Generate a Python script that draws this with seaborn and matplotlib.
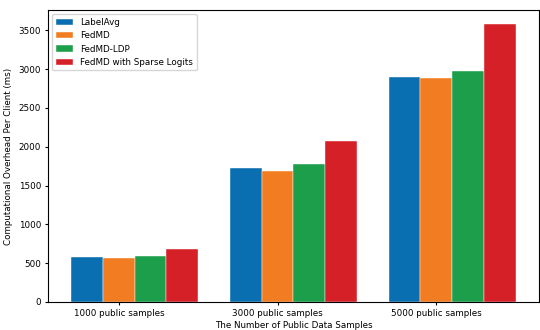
import matplotlib
matplotlib.use("Agg")
import matplotlib.pyplot as plt
import pandas as pd
import seaborn as sns

groups = ["1000 public samples", "3000 public samples", "5000 public samples"]
methods = ["LabelAvg", "FedMD", "FedMD-LDP", "FedMD with Sparse Logits"]
label_avg = [579, 1723, 2900]
fedmd = [566, 1688, 2890]
fedmd_ldp = [598, 1781, 2975]
sparse_logits = [685, 2077, 3585]
colors = ["#0a6fb0", "#f27c22", "#1c9e4a", "#d62027"]

series = [label_avg, fedmd, fedmd_ldp, sparse_logits]
df = pd.DataFrame(
    [(g, m, v) for m, vals in zip(methods, series) for g, v in zip(groups, vals)],
    columns=["group", "method", "value"],
)

fs = 6.3
plt.rcParams["font.family"] = "DejaVu Sans"
fig, ax = plt.subplots(figsize=(5.4, 3.3), dpi=100)
fig.subplots_adjust(left=0.089, right=0.998, top=0.97, bottom=0.085)
sns.barplot(data=df, x="group", y="value", hue="method", order=groups, hue_order=methods,
            palette=colors, saturation=1, width=0.8, errorbar=None, ax=ax,
            edgecolor="white", linewidth=0.3)
ax.set_xlim(-0.546, 2.546)
ax.set_xticks([i - 0.1 for i in range(len(groups))])
ax.set_xticklabels(groups)
ax.tick_params(labelsize=fs, length=2.5, pad=2.5)
ax.set_xlabel("The Number of Public Data Samples", fontsize=fs, labelpad=2)
ax.set_ylabel("Computational Overhead Per Client (ms)", fontsize=fs, labelpad=4)
ax.legend(loc="upper left", fontsize=fs, title=None)
fig.savefig("out.png", dpi=100)
